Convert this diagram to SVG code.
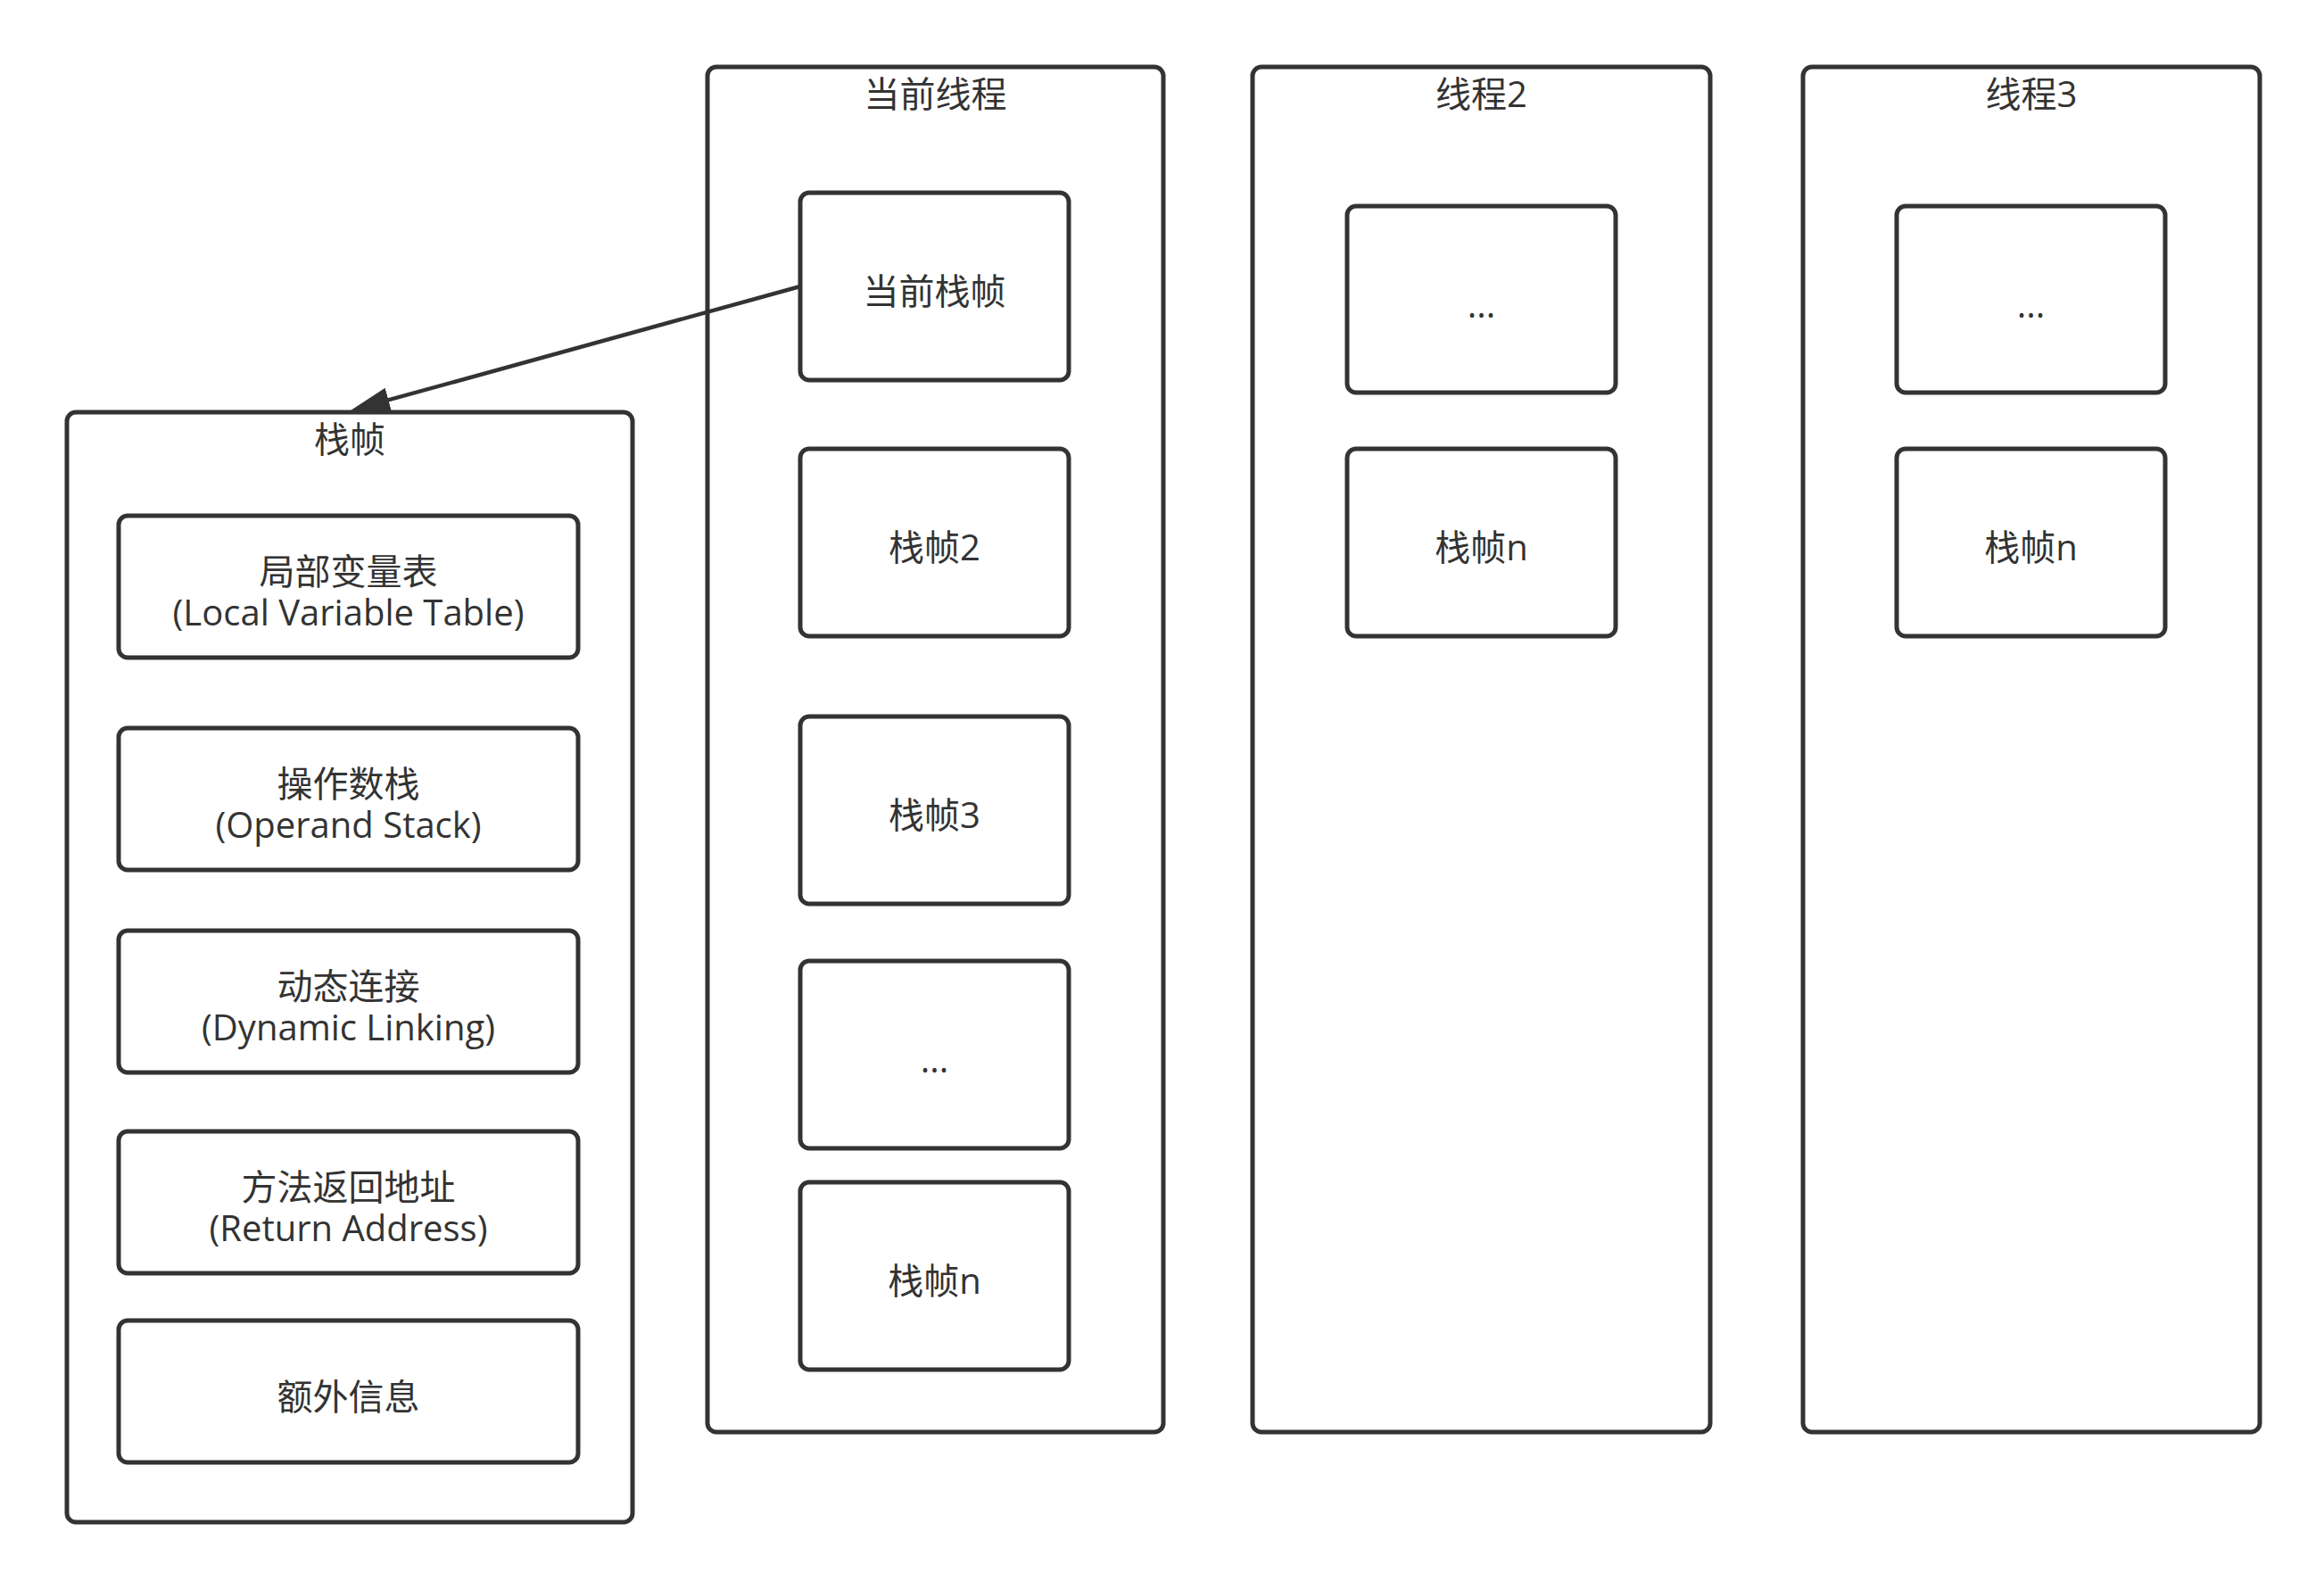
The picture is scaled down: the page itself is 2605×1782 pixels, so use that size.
<svg xmlns="http://www.w3.org/2000/svg" width="2605" height="1782" viewBox="0 0 2605 1782">
<style>
.box{fill:#ffffff;stroke:#333333;stroke-width:5}
.t{font-family:"Open Sans","Noto Sans CJK SC",sans-serif;font-size:40px;fill:#333333;text-anchor:middle}
.edge{fill:none;stroke:#333333;stroke-width:4.5}
</style>
<defs>
<marker id="arrow" markerUnits="userSpaceOnUse" markerWidth="46" markerHeight="30" refX="24" refY="14" orient="auto">
<path d="M0,0 L44,14 L0,28 Z" fill="#333333"/>
</marker>
</defs>
<rect width="2605" height="1782" fill="#ffffff"/>

<g id="thread-current">
<rect class="box" x="793" y="75" width="511" height="1530" rx="10"/>
<text class="t" x="1048.5" y="120">当前线程</text>
</g>
<g id="frame-current">
<rect class="box" x="897" y="216" width="301" height="210" rx="10"/>
<text class="t" x="1047.5" y="341">当前栈帧</text>
</g>
<g id="frame-2">
<rect class="box" x="897" y="503" width="301" height="210" rx="10"/>
<text class="t" x="1047.5" y="628">栈帧2</text>
</g>
<g id="frame-3">
<rect class="box" x="897" y="803" width="301" height="210" rx="10"/>
<text class="t" x="1047.5" y="928">栈帧3</text>
</g>
<g id="frame-dots">
<rect class="box" x="897" y="1077" width="301" height="210" rx="10"/>
<text class="t" x="1047.5" y="1202">...</text>
</g>
<g id="frame-n">
<rect class="box" x="897" y="1325" width="301" height="210" rx="10"/>
<text class="t" x="1047.5" y="1450">栈帧n</text>
</g>

<g id="thread-2">
<rect class="box" x="1404" y="75" width="513" height="1530" rx="10"/>
<text class="t" x="1660.5" y="120">线程2</text>
</g>
<g id="t2-frame-dots">
<rect class="box" x="1510" y="231" width="301" height="209" rx="10"/>
<text class="t" x="1660.5" y="356">...</text>
</g>
<g id="t2-frame-n">
<rect class="box" x="1510" y="503" width="301" height="210" rx="10"/>
<text class="t" x="1660.5" y="628">栈帧n</text>
</g>

<g id="thread-3">
<rect class="box" x="2021" y="75" width="512" height="1530" rx="10"/>
<text class="t" x="2277" y="120">线程3</text>
</g>
<g id="t3-frame-dots">
<rect class="box" x="2126" y="231" width="301" height="209" rx="10"/>
<text class="t" x="2276.5" y="356">...</text>
</g>
<g id="t3-frame-n">
<rect class="box" x="2126" y="503" width="301" height="210" rx="10"/>
<text class="t" x="2276.5" y="628">栈帧n</text>
</g>

<g id="stack-frame">
<rect class="box" x="75" y="462" width="634" height="1244" rx="10"/>
<text class="t" x="392" y="507">栈帧</text>
</g>
<g id="local-variable-table">
<rect class="box" x="133" y="578" width="515" height="159" rx="10"/>
<text class="t" x="390.5" y="654.5">局部变量表<tspan x="390.5" dy="46">(Local Variable Table)</tspan></text>
</g>
<g id="operand-stack">
<rect class="box" x="133" y="816" width="515" height="159" rx="10"/>
<text class="t" x="390.5" y="892.5">操作数栈<tspan x="390.5" dy="46">(Operand Stack)</tspan></text>
</g>
<g id="dynamic-linking">
<rect class="box" x="133" y="1043" width="515" height="159" rx="10"/>
<text class="t" x="390.5" y="1119.5">动态连接<tspan x="390.5" dy="46">(Dynamic Linking)</tspan></text>
</g>
<g id="return-address">
<rect class="box" x="133" y="1268" width="515" height="159" rx="10"/>
<text class="t" x="390.5" y="1344.5">方法返回地址<tspan x="390.5" dy="46">(Return Address)</tspan></text>
</g>
<g id="extra-info">
<rect class="box" x="133" y="1480" width="515" height="159" rx="10"/>
<text class="t" x="390.5" y="1579.5">额外信息</text>
</g>

<g id="connectors">
<line class="edge" x1="897" y1="321" x2="412.3" y2="454.7" marker-end="url(#arrow)"/>
</g>
</svg>
